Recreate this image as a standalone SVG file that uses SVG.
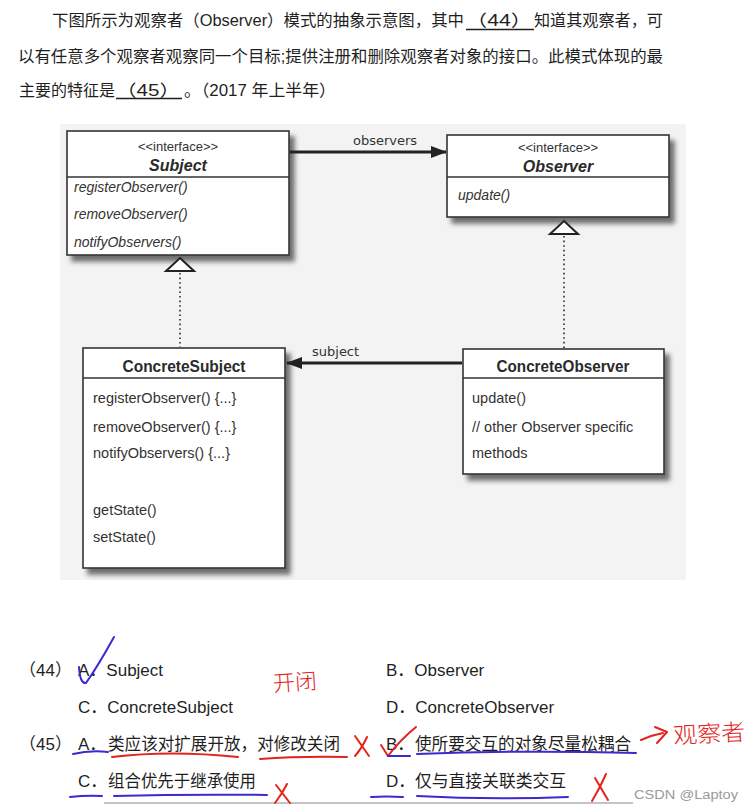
<svg xmlns="http://www.w3.org/2000/svg" width="754" height="812" viewBox="0 0 754 812">
<defs>
<filter id="sh" x="-10%" y="-10%" width="130%" height="130%">
<feDropShadow dx="5" dy="6" stdDeviation="2.5" flood-color="#000" flood-opacity="0.55"/>
</filter>
<marker id="fill" viewBox="0 0 16 12" refX="15" refY="6" markerWidth="16" markerHeight="12" markerUnits="userSpaceOnUse" orient="auto">
<path d="M0,0 L16,6 L0,12 Z" fill="#222"/>
</marker>
</defs>
<style>
.cn{font-family:"Liberation Sans","Noto Sans CJK SC",sans-serif;fill:#1f1f1f}
.box{fill:#fff;stroke:#333;stroke-width:1.6}
.div{stroke:#333;stroke-width:1.6}
.st{font-family:"Liberation Sans",Arial,sans-serif;font-size:13px;fill:#333;text-anchor:middle}
.ti{font-family:"Liberation Sans",Arial,sans-serif;font-size:16px;font-weight:bold;font-style:italic;fill:#2a2a2a;text-anchor:middle}
.tb{font-family:"Liberation Sans",Arial,sans-serif;font-size:16px;font-weight:bold;fill:#2a2a2a;text-anchor:middle}
.mi{font-family:"Liberation Sans",Arial,sans-serif;font-size:14px;font-style:italic;fill:#333}
.m{font-family:"Liberation Sans",Arial,sans-serif;font-size:14.5px;fill:#333}
.lbl{font-family:"DejaVu Sans",Verdana,sans-serif;font-size:13px;fill:#333}
.tri{fill:#fff;stroke:#222;stroke-width:2}
.dot{stroke:#555;stroke-width:2;stroke-dasharray:1.6 3;fill:none}
.assoc{stroke:#222;stroke-width:3;fill:none}
.opt{font-family:"Liberation Sans","Noto Sans CJK SC",sans-serif;font-size:17px;fill:#1f1f1f}
.blue{stroke:#3a2ad0;stroke-width:2;fill:none;stroke-linecap:round;stroke-linejoin:round}
.red{stroke:#e3231c;stroke-width:2;fill:none;stroke-linecap:round;stroke-linejoin:round}
.hw{font-family:"Noto Sans CJK SC",sans-serif;fill:#e3231c;font-weight:300}
</style>
<rect width="754" height="812" fill="#fff"/>

<!-- question text -->
<g id="question">
<text class="cn" font-size="16.3" y="26"><tspan x="52" textLength="412" lengthAdjust="spacingAndGlyphs">下图所示为观察者（Observer）模式的抽象示意图，其中</tspan><tspan x="466" textLength="66" lengthAdjust="spacingAndGlyphs">（44）</tspan><tspan x="534" textLength="129" lengthAdjust="spacingAndGlyphs">知道其观察者，可</tspan></text>
<line x1="466" y1="29.5" x2="534" y2="29.5" stroke="#1f1f1f" stroke-width="1.3"/>
<text class="cn" font-size="16.3" x="18" y="62" textLength="645" lengthAdjust="spacingAndGlyphs">以有任意多个观察者观察同一个目标;提供注册和删除观察者对象的接口。此模式体现的最</text>
<text class="cn" font-size="16.3" y="96"><tspan x="19" textLength="96" lengthAdjust="spacingAndGlyphs">主要的特征是</tspan><tspan x="116" textLength="64" lengthAdjust="spacingAndGlyphs">（45）</tspan><tspan x="184" textLength="152" lengthAdjust="spacingAndGlyphs">。（2017 年上半年）</tspan></text>
<line x1="116" y1="98.5" x2="182" y2="98.5" stroke="#1f1f1f" stroke-width="1.3"/>
</g>

<!-- diagram background -->
<rect x="60" y="124" width="626" height="456" fill="#f3f3f3"/>

<g id="Subject">
<rect class="box" x="67" y="131" width="222" height="124" filter="url(#sh)"/>
<line class="div" x1="67" y1="177" x2="289" y2="177"/>
<text class="st" x="178" y="151">&lt;&lt;interface&gt;&gt;</text>
<text class="ti" x="178" y="171">Subject</text>
<text class="mi" x="74" y="192">registerObserver()</text>
<text class="mi" x="74" y="219">removeObserver()</text>
<text class="mi" x="74" y="247">notifyObservers()</text>
</g>

<g id="Observer">
<rect class="box" x="447" y="135" width="222" height="82" filter="url(#sh)"/>
<line class="div" x1="447" y1="177" x2="669" y2="177"/>
<text class="st" x="558" y="152">&lt;&lt;interface&gt;&gt;</text>
<text class="ti" x="558" y="172">Observer</text>
<text class="mi" x="458" y="200">update()</text>
</g>

<g id="ConcreteSubject">
<rect class="box" x="83" y="348" width="202" height="220" filter="url(#sh)"/>
<line class="div" x1="83" y1="378" x2="285" y2="378"/>
<text class="tb" x="184" y="372" textLength="123" lengthAdjust="spacingAndGlyphs">ConcreteSubject</text>
<text class="m" x="93" y="403">registerObserver() {...}</text>
<text class="m" x="93" y="432">removeObserver() {...}</text>
<text class="m" x="93" y="458">notifyObservers() {...}</text>
<text class="m" x="93" y="515">getState()</text>
<text class="m" x="93" y="542">setState()</text>
</g>

<g id="ConcreteObserver">
<rect class="box" x="463" y="349" width="201" height="125" filter="url(#sh)"/>
<line class="div" x1="463" y1="378" x2="664" y2="378"/>
<text class="tb" x="563" y="372" textLength="133" lengthAdjust="spacingAndGlyphs">ConcreteObserver</text>
<text class="m" x="472" y="403">update()</text>
<text class="m" x="472" y="432">// other Observer specific</text>
<text class="m" x="472" y="458">methods</text>
</g>

<g id="connectors">
<line class="assoc" x1="290" y1="152" x2="446" y2="152" marker-end="url(#fill)"/>
<text class="lbl" x="353" y="145">observers</text>
<line class="assoc" x1="462" y1="363" x2="287" y2="363" marker-end="url(#fill)"/>
<text class="lbl" x="312" y="356">subject</text>
<line class="dot" x1="180" y1="273" x2="180" y2="347"/>
<path class="tri" d="M180,258 L194,271 L166,271 Z"/>
<line class="dot" x1="564" y1="236" x2="564" y2="348"/>
<path class="tri" d="M564,221 L578,234 L550,234 Z"/>
</g>

<!-- options -->
<g id="options">
<text class="opt" x="19" y="676">（44）</text>
<text class="opt" x="78" y="676">A．Subject</text>
<text class="opt" x="386" y="676">B．Observer</text>
<text class="opt" x="78" y="713">C．ConcreteSubject</text>
<text class="opt" x="386" y="713">D．ConcreteObserver</text>
<text class="opt" x="19" y="750">（45）</text>
<text class="opt" x="78" y="750"><tspan>A．</tspan><tspan x="108" textLength="232" lengthAdjust="spacingAndGlyphs">类应该对扩展开放，对修改关闭</tspan></text>
<text class="opt" x="386" y="750"><tspan>B．</tspan><tspan x="415" textLength="216" lengthAdjust="spacingAndGlyphs">使所要交互的对象尽量松耦合</tspan></text>
<text class="opt" x="78" y="787"><tspan>C．</tspan><tspan x="108" textLength="148" lengthAdjust="spacingAndGlyphs">组合优先于继承使用</tspan></text>
<text class="opt" x="386" y="787"><tspan>D．</tspan><tspan x="415" textLength="151" lengthAdjust="spacingAndGlyphs">仅与直接关联类交互</tspan></text>
<line x1="104" y1="803" x2="633" y2="803" stroke="#c4c4c4" stroke-width="2"/>
<text x="634" y="799" font-family="Liberation Sans,Arial,sans-serif" font-size="12.5" fill="#9a9a9a" textLength="104" lengthAdjust="spacingAndGlyphs">CSDN @Laptoy</text>
</g>

<!-- handwritten marks -->
<g id="annotations">
<path class="blue" d="M79,667 Q80,684 86,683 Q98,666 114,637"/>
<text class="hw" x="273" y="690" font-size="22" transform="rotate(-4 296 682)">开闭</text>
<path class="red" d="M112,757 Q170,750 238,757"/>
<path class="red" d="M260,759 Q300,756 347,757"/>
<path class="blue" d="M73,754 Q90,750 108,752"/>
<path class="red" d="M355,736 L369,756 M367,737 Q362,748 355,756"/>
<path class="red" d="M381,745 L388,756 Q400,740 416,727"/>
<path class="blue" d="M388,756 L410,756"/>
<path class="blue" d="M417,754 Q520,750 636,753"/>
<path class="red" d="M641,740 Q652,735 663,733 M655,727 L667,732 L657,743"/>
<text class="hw" x="673" y="742" font-size="23" textLength="72" lengthAdjust="spacingAndGlyphs" transform="rotate(-3 708 730)">观察者</text>
<path class="blue" d="M70,797 Q86,795 102,796"/>
<path class="blue" d="M114,796 Q190,794 267,795"/>
<path class="red" d="M276,785 L290,803 M287,784 Q282,794 275,803"/>
<path class="blue" d="M371,797 Q386,796 403,797"/>
<path class="blue" d="M417,796 Q490,800 568,797"/>
<path class="red" d="M595,778 L608,800 M606,774 Q600,788 592,801"/>
</g>
</svg>
